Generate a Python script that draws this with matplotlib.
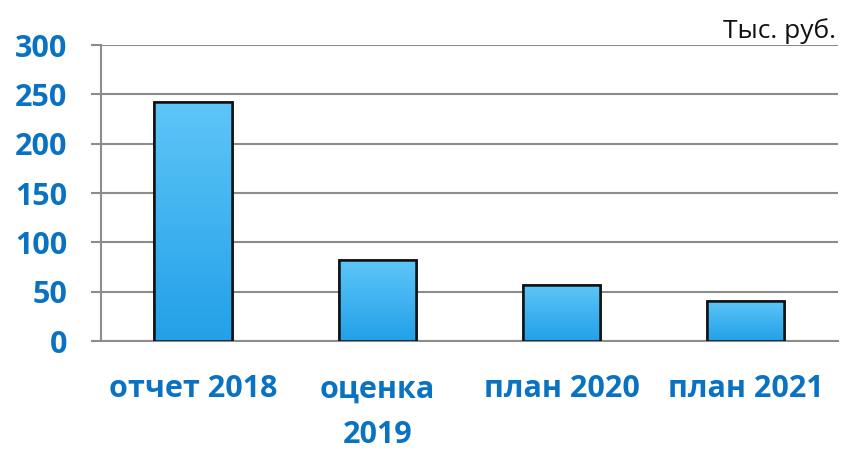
import matplotlib
matplotlib.use("Agg")
import matplotlib.pyplot as plt
import numpy as np
from matplotlib.colors import LinearSegmentedColormap

categories = ["отчет 2018", "оценка\n2019", "план 2020", "план 2021"]
values = [242, 82, 57, 41]
yticks = [0, 50, 100, 150, 200, 250, 300]
unit_label = "Тыс. руб."

blue = "#0A72C2"
grid_c = "#8C8C8C"

plt.rcParams['font.family'] = ['Open Sans', 'DejaVu Sans']

fig = plt.figure(figsize=(8.42, 4.51), dpi=100)
ax = fig.add_axes([0.12, 0.2439, 0.875, 0.6563])

x = np.arange(len(categories))
bars = ax.bar(x, values, width=0.42, color="#3DB4F2", edgecolor="#111111",
              linewidth=1.8, zorder=3)

cmap = LinearSegmentedColormap.from_list("g", ["#22A0E8", "#5EC6F8"])
grad = np.linspace(0, 1, 256).reshape(-1, 1)
for b in bars:
    x0, y0 = b.get_x(), b.get_y()
    w, h = b.get_width(), b.get_height()
    im = ax.imshow(grad, extent=[x0, x0 + w, y0, y0 + h], origin="lower",
                   cmap=cmap, aspect="auto", zorder=3.5)
    im.set_clip_path(b)
    ax.add_patch(plt.Rectangle((x0, y0), w, h, fill=False, edgecolor="#111111",
                               linewidth=1.8, zorder=4))

ax.set_xlim(-0.5, len(categories) - 0.5)
ax.set_ylim(0, 300)
ax.set_yticks(yticks)
ax.set_yticklabels([str(v) for v in yticks])
ax.set_xticks(x)
ax.set_xticklabels(categories)

ax.yaxis.grid(True, color=grid_c, linewidth=1.5, zorder=0)
ax.set_axisbelow(True)
for s in ["top", "right"]:
    ax.spines[s].set_visible(False)
ax.spines["left"].set_color(grid_c)
ax.spines["left"].set_linewidth(1.5)
ax.spines["bottom"].set_color(grid_c)
ax.spines["bottom"].set_linewidth(1.5)

ax.tick_params(axis="y", colors=grid_c, length=7, width=1.5, direction="out",
               pad=17.5, labelcolor=blue, labelsize=22)
ax.tick_params(axis="x", length=0, pad=24, labelcolor=blue, labelsize=22)
for lab in ax.get_yticklabels() + ax.get_xticklabels():
    lab.set_fontweight("bold")
for lab in ax.get_xticklabels():
    lab.set_linespacing(1.7)

fig.text(0.993, 0.932, unit_label, ha="right", va="center", fontsize=19,
         color="#111111")

fig.savefig("out.png", dpi=100)
